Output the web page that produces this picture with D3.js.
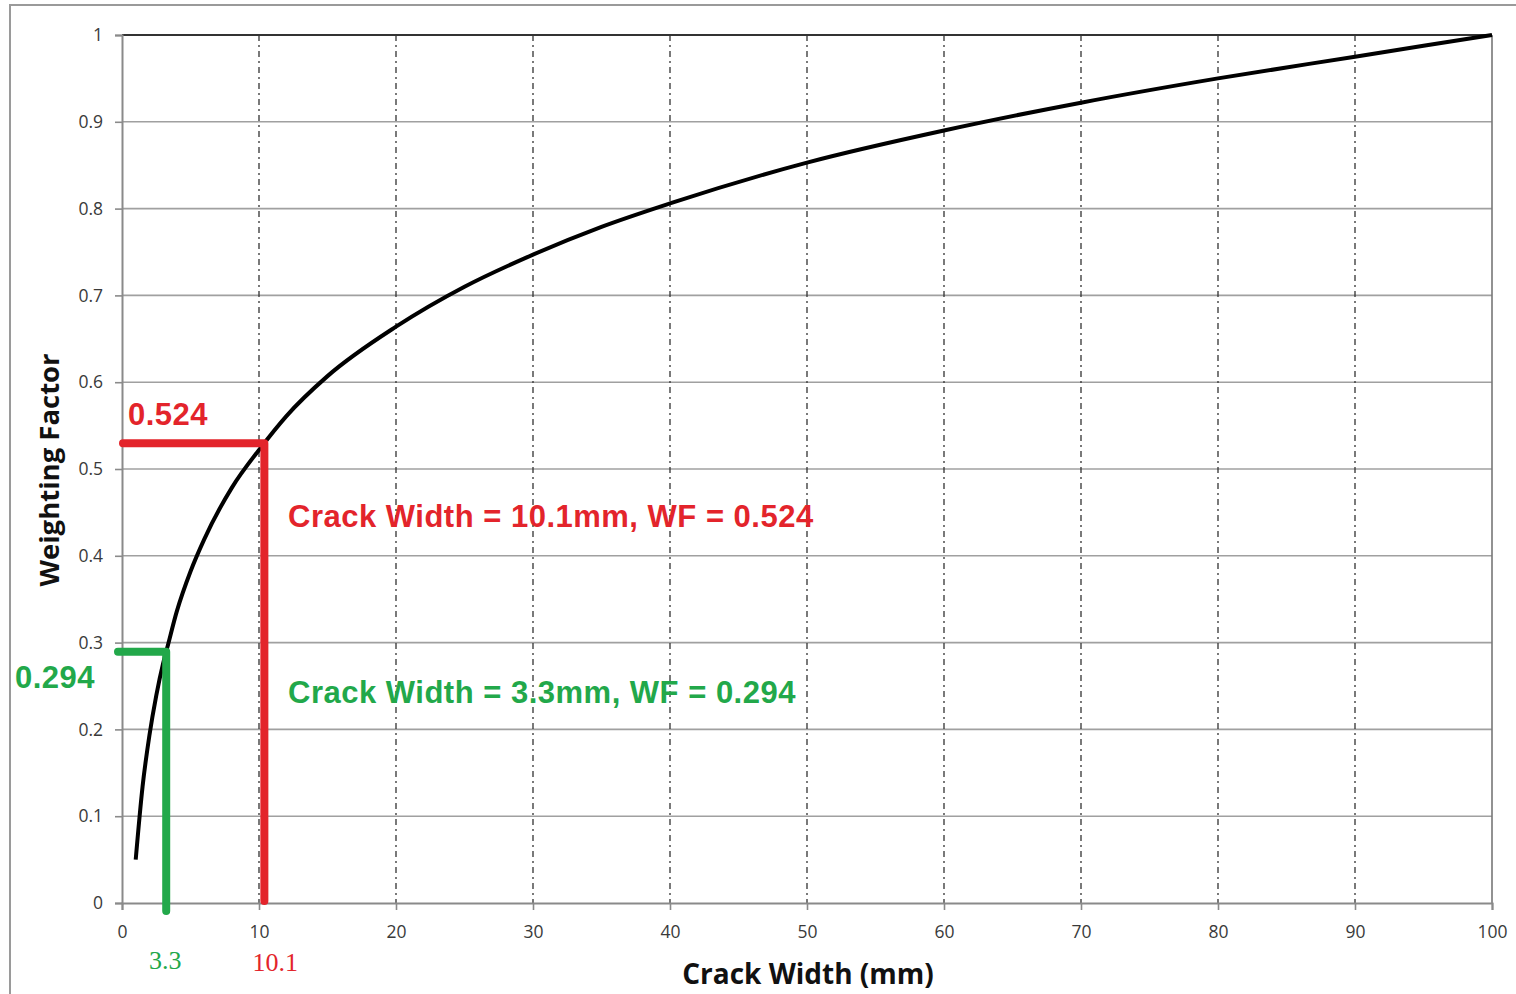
<!DOCTYPE html>
<html>
<head>
<meta charset="utf-8">
<script src="https://cdn.jsdelivr.net/npm/d3@7"></script>
<style>
  body { margin: 0; background: #fff; }
  svg { display: block; }
</style>
</head>
<body>
<div id="chart"></div>
<script>
// values
var crackWidth = [1, 1.5, 2, 2.5, 3, 3.3, 4, 5, 6, 8, 10.1, 12, 15, 20, 25, 30, 35, 40, 50, 60, 70, 80, 90, 100];
var weightFactor = [0.05, 0.134, 0.193, 0.239, 0.276, 0.294, 0.336, 0.382, 0.419, 0.478, 0.524, 0.561, 0.607, 0.664, 0.710, 0.747, 0.779, 0.806, 0.853, 0.890, 0.922, 0.950, 0.975, 1.0];
var xTicks = [0, 10, 20, 30, 40, 50, 60, 70, 80, 90, 100];
var yTicks = [0, 0.1, 0.2, 0.3, 0.4, 0.5, 0.6, 0.7, 0.8, 0.9, 1];
var redPoint = [10.1, 0.524];
var greenPoint = [3.3, 0.294];

var width = 1516,
    height = 994,
    padLeft = 122, padRight = 1492, padTop = 35, padBottom = 903;

var svg = d3.select("#chart").append("svg")
    .attr("width", width)
    .attr("height", height);

// outer frame
svg.append("rect")
    .attr("x", 10).attr("y", 5)
    .attr("width", width + 10).attr("height", height + 10)
    .attr("fill", "none").attr("stroke", "#9a9a9a").attr("stroke-width", 2);

var x = d3.scaleLinear().domain([0, 100]).range([padLeft, padRight]);
var y = d3.scaleLinear().domain([0, 1]).range([padBottom, padTop]);

// horizontal grid lines
svg.append("g").selectAll("line")
    .data(yTicks.slice(1))
    .join("line")
    .attr("x1", padLeft).attr("x2", padRight)
    .attr("y1", d => y(d)).attr("y2", d => y(d))
    .attr("stroke", "#a0a0a0").attr("stroke-width", 1.6);

// vertical dash-dot grid lines
svg.append("g").selectAll("line")
    .data(xTicks.slice(1, -1))
    .join("line")
    .attr("x1", d => x(d)).attr("x2", d => x(d))
    .attr("y1", padTop).attr("y2", padBottom)
    .attr("stroke", "#333").attr("stroke-width", 1.3)
    .attr("stroke-dasharray", "6,4,2,4");

// top edge darker, right edge gray
svg.append("line")
    .attr("x1", padLeft).attr("x2", padRight).attr("y1", padTop).attr("y2", padTop)
    .attr("stroke", "#333").attr("stroke-width", 2);
svg.append("line")
    .attr("x1", padRight).attr("x2", padRight).attr("y1", padTop).attr("y2", padBottom)
    .attr("stroke", "#777").attr("stroke-width", 1.6);

// axes
var xAxis = d3.axisBottom(x).tickValues(xTicks).tickSize(7).tickPadding(16).tickFormat(d3.format("d"));
var yAxis = d3.axisLeft(y).tickValues(yTicks).tickSize(7).tickPadding(12).tickFormat(d => d === 0 || d === 1 ? String(d) : d3.format(".1f")(d));

var gx = svg.append("g")
    .attr("transform", "translate(0," + padBottom + ")")
    .call(xAxis);
var gy = svg.append("g")
    .attr("transform", "translate(" + padLeft + ",0)")
    .call(yAxis);

[gx, gy].forEach(function(g) {
  g.select(".domain").attr("stroke", "#8a8a8a").attr("stroke-width", 2);
  g.selectAll(".tick line").attr("stroke", "#8a8a8a").attr("stroke-width", 1.6);
  g.selectAll("text")
    .attr("fill", "#3a3a3a")
    .style("font-family", "'Open Sans', sans-serif")
    .style("font-size", "17.5px");
});

// curve
var line = d3.line()
    .x((d, i) => x(crackWidth[i]))
    .y(d => y(d))
    .curve(d3.curveMonotoneX);

svg.append("path")
    .datum(weightFactor)
    .attr("d", line)
    .attr("fill", "none")
    .attr("stroke", "#000")
    .attr("stroke-width", 4);

// red annotation
var red = "#e3242b", green = "#22a84a";
svg.append("path")
    .attr("d", "M" + (x(0) + 1) + "," + (y(redPoint[1]) - 5) + "H" + (x(redPoint[0]) + 4) + "V" + (y(0) - 2))
    .attr("fill", "none").attr("stroke", red).attr("stroke-width", 8)
    .attr("stroke-linejoin", "round").attr("stroke-linecap", "round");

// green annotation
svg.append("path")
    .attr("d", "M" + (x(0) - 4) + "," + (y(greenPoint[1]) + 4) + "H" + (x(greenPoint[0]) - 1) + "V" + (y(0) + 8))
    .attr("fill", "none").attr("stroke", green).attr("stroke-width", 8)
    .attr("stroke-linejoin", "round").attr("stroke-linecap", "round");

var bold = "'Liberation Sans', Arial, sans-serif";

function note(xp, yp, colour, txt) {
  svg.append("text")
    .attr("x", xp).attr("y", yp)
    .attr("fill", colour)
    .style("font-family", bold).style("font-weight", "bold").style("font-size", "31px")
    .style("letter-spacing", "0.5px")
    .text(txt);
}

note(128, 425, red, d3.format(".3f")(redPoint[1]));
note(15, 688, green, d3.format(".3f")(greenPoint[1]));
note(288, 527, red, "Crack Width = " + redPoint[0] + "mm, WF = " + redPoint[1]);
note(288, 703, green, "Crack Width = " + greenPoint[0] + "mm, WF = " + greenPoint[1]);

// value labels under the x axis
svg.append("text")
    .attr("x", x(greenPoint[0]) - 2).attr("y", 969)
    .attr("text-anchor", "middle")
    .attr("fill", green)
    .style("font-family", "'Liberation Serif', serif").style("font-size", "26px")
    .text(greenPoint[0]);

svg.append("text")
    .attr("x", x(redPoint[0]) + 15).attr("y", 971)
    .attr("text-anchor", "middle")
    .attr("fill", red)
    .style("font-family", "'Liberation Serif', serif").style("font-size", "26px")
    .text(redPoint[0]);

// axis titles
svg.append("text")
    .attr("x", 808).attr("y", 984)
    .attr("text-anchor", "middle")
    .attr("fill", "#111")
    .style("font-family", "'Open Sans', sans-serif").style("font-weight", "bold").style("font-size", "28px")
    .text("Crack Width (mm)");

svg.append("text")
    .attr("transform", "translate(59,470)rotate(-90)")
    .attr("text-anchor", "middle")
    .attr("fill", "#111")
    .style("font-family", "'Open Sans', sans-serif").style("font-weight", "bold").style("font-size", "27.5px")
    .text("Weighting Factor");
</script>
</body>
</html>
